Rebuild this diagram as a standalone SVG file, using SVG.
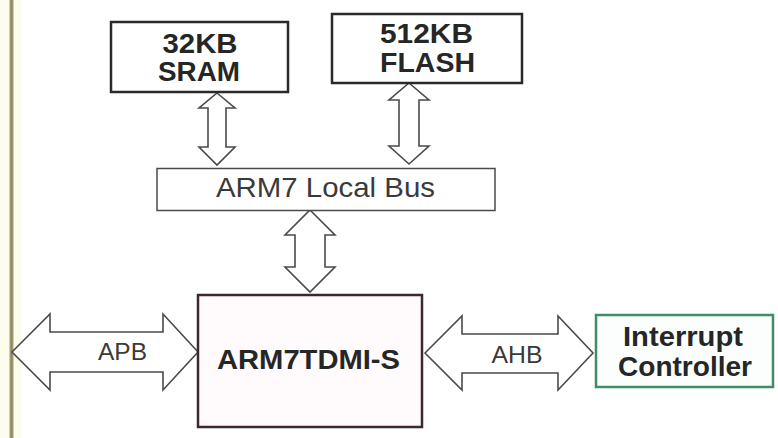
<svg xmlns="http://www.w3.org/2000/svg" width="778" height="438" viewBox="0 0 778 438">
  <style>
    .box { fill: #ffffff; stroke: #2a2a2a; stroke-width: 2.5; }
    .bus { fill: #ffffff; stroke: #4a4a4a; stroke-width: 1.5; }
    .arr { fill: #ffffff; stroke: #4a4a4a; stroke-width: 1.6; stroke-linejoin: miter; }
    .t { font-family: "Liberation Sans", Arial, sans-serif; text-anchor: middle; }
    .b { font-weight: bold; fill: #262626; }
    .n { font-weight: normal; fill: #3a3a3a; }
  </style>
  <rect x="0" y="0" width="778" height="438" fill="#ffffff"/>
  <rect x="0" y="0" width="22" height="438" fill="#fdfdee"/>
  <line x1="11.5" y1="0" x2="11.5" y2="438" stroke="#a59e78" stroke-width="4"/>
  <line x1="11.5" y1="0" x2="11.5" y2="438" stroke="#8f8766" stroke-width="1.5"/>

  <g id="connectors">
    <polygon class="arr" points="217,93 235,108 226,108 226,147 235,147 217,165 199,147 208,147 208,108 199,108"/>
    <polygon class="arr" points="409,83 429,100 419,100 419,146 429,146 409,164 389,146 399,146 399,100 389,100"/>
    <polygon class="arr" points="310,210 335,235 325,235 325,267 335,267 310,292 285,267 295,267 295,235 285,235"/>
    <g id="apb">
      <polygon class="arr" points="12,352 50,314 50,332 163,332 163,314 198,352 163,390 163,372 50,372 50,390"/>
      <text class="t n" x="122.5" y="359.5" font-size="24" textLength="49" lengthAdjust="spacingAndGlyphs">APB</text>
    </g>
    <g id="ahb">
      <polygon class="arr" points="425,353 462,316 462,334 558,334 558,316 593,353 558,390 558,373 462,373 462,390"/>
      <text class="t n" x="517" y="362.5" font-size="24" textLength="51" lengthAdjust="spacingAndGlyphs">AHB</text>
    </g>
  </g>

  <g id="sram">
    <rect class="box" x="111" y="22" width="177" height="70"/>
    <text class="t b" x="200" y="52.5" font-size="27" textLength="75" lengthAdjust="spacingAndGlyphs">32KB</text>
    <text class="t b" x="199" y="80.5" font-size="27" textLength="82" lengthAdjust="spacingAndGlyphs">SRAM</text>
  </g>

  <g id="flash">
    <rect class="box" x="332" y="14" width="190" height="69"/>
    <text class="t b" x="426.5" y="42.5" font-size="27" textLength="93" lengthAdjust="spacingAndGlyphs">512KB</text>
    <text class="t b" x="427.5" y="71.5" font-size="27" textLength="95" lengthAdjust="spacingAndGlyphs">FLASH</text>
  </g>

  <g id="localbus">
    <rect class="bus" x="157" y="168.5" width="338" height="42"/>
    <text class="t n" x="325.5" y="197" font-size="28" textLength="219" lengthAdjust="spacingAndGlyphs">ARM7 Local Bus</text>
  </g>

  <g id="cpu">
    <rect x="198" y="295" width="224" height="132" fill="#fffafb" stroke="#3d2830" stroke-width="2.5"/>
    <text class="t b" x="308.5" y="368.5" font-size="27" textLength="183" lengthAdjust="spacingAndGlyphs">ARM7TDMI-S</text>
  </g>

  <g id="interrupt">
    <rect x="596" y="315" width="177" height="72" fill="#fbfefc" stroke="#3f8d66" stroke-width="2.5"/>
    <text class="t b" x="683" y="345.5" font-size="27" textLength="120" lengthAdjust="spacingAndGlyphs">Interrupt</text>
    <text class="t b" x="685" y="375.5" font-size="27" textLength="134" lengthAdjust="spacingAndGlyphs">Controller</text>
  </g>
</svg>
